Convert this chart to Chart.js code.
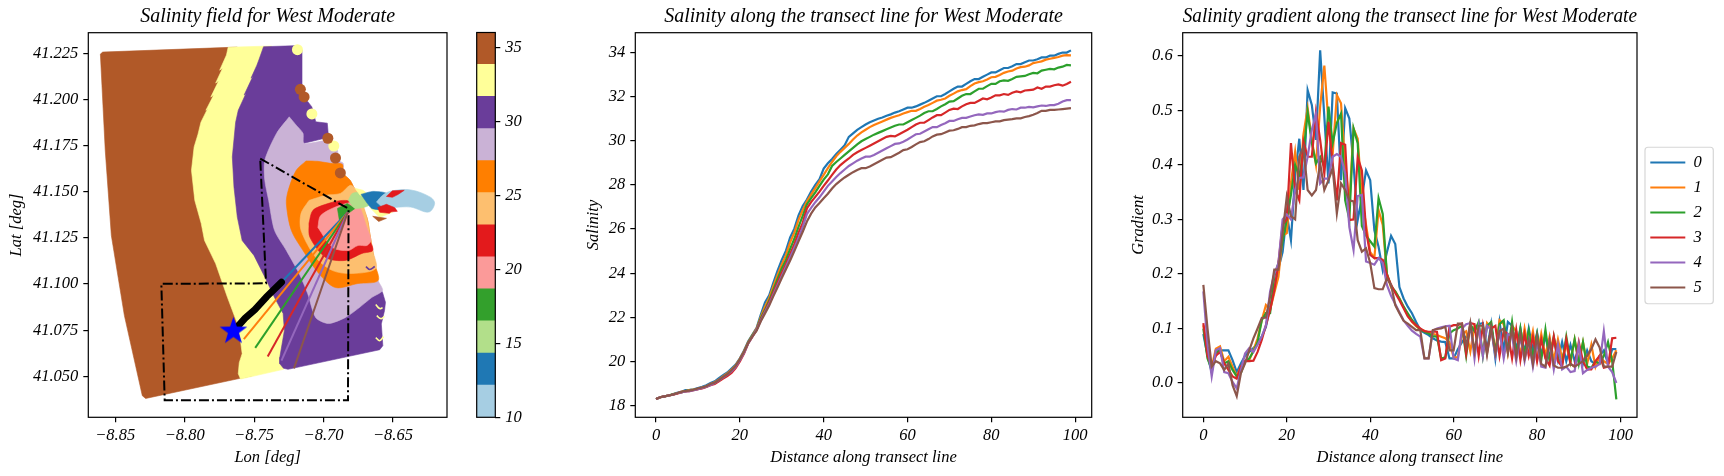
<!DOCTYPE html>
<html>
<head>
<meta charset="utf-8">
<title>Salinity West Moderate</title>
<script src="https://cdn.jsdelivr.net/npm/chart.js@4/dist/chart.umd.js"></script>
<style>
  html, body { margin: 0; padding: 0; background: #fff; }
  body { width: 1724px; height: 476px; position: relative; overflow: hidden; }
  canvas { position: absolute; top: 0; }
</style>
</head>
<body>
<canvas id="fieldChart" width="462" height="476" style="left:0"></canvas>
<canvas id="barChart" width="60" height="476" style="left:470px"></canvas>
<canvas id="salinityChart" width="525" height="476" style="left:578px"></canvas>
<canvas id="gradientChart" width="599" height="476" style="left:1125px"></canvas>
<script>
// salinity bands of the field plot, [lon, lat] outlines, painted bottom to top
const fieldBrown = [[-8.8607,41.2246],[-8.8572,41.1725],[-8.8528,41.1263],[-8.8434,41.0829],[-8.8305,41.0395],[-8.8281,41.0380],[-8.7515,41.0503],[-8.7550,41.0910],[-8.7798,41.1725],[-8.7621,41.2284],[-8.8590,41.2257]];
const fieldYellow = [[-8.7687,41.2283],[-8.7699,41.2241],[-8.7715,41.2214],[-8.7748,41.2159],[-8.7727,41.2170],[-8.7777,41.2089],[-8.7756,41.2100],[-8.7812,41.2013],[-8.7791,41.2024],[-8.7847,41.1942],[-8.7833,41.1953],[-8.7883,41.1877],[-8.7904,41.1812],[-8.7932,41.1743],[-8.7951,41.1616],[-8.7927,41.1453],[-8.7881,41.1329],[-8.7857,41.1236],[-8.7777,41.1111],[-8.7692,41.0928],[-8.7621,41.0786],[-8.7600,41.0704],[-8.7586,41.0623],[-8.7607,41.0574],[-8.7614,41.0514],[-8.7598,41.0485],[-8.7289,41.0538],[-8.7197,41.1453],[-8.7374,41.2290]];
const fieldPurple = [[-8.7432,41.2286],[-8.7466,41.2214],[-8.7480,41.2186],[-8.7522,41.2116],[-8.7508,41.2127],[-8.7572,41.2024],[-8.7558,41.2034],[-8.7614,41.1942],[-8.7633,41.1877],[-8.7657,41.1689],[-8.7645,41.1526],[-8.7621,41.1363],[-8.7586,41.1236],[-8.7501,41.1155],[-8.7421,41.1035],[-8.7353,41.0927],[-8.7291,41.0840],[-8.7282,41.0748],[-8.7315,41.0603],[-8.7315,41.0568],[-8.7289,41.0544],[-8.7256,41.0538],[-8.6596,41.0644],[-8.6573,41.0666],[-8.6584,41.0784],[-8.6561,41.0856],[-8.6554,41.0901],[-8.6575,41.0954],[-8.6985,41.1562],[-8.7140,41.1763],[-8.6964,41.1795],[-8.6973,41.1872],[-8.7056,41.1879],[-8.7084,41.1960],[-8.7140,41.2014],[-8.7150,41.2069],[-8.7155,41.2268],[-8.7176,41.2292]];
const fieldLilac = [[-8.7247,41.1906],[-8.7197,41.1861],[-8.7148,41.1817],[-8.7140,41.1763],[-8.6971,41.1779],[-8.6935,41.1768],[-8.6900,41.1725],[-8.6893,41.1671],[-8.6858,41.1654],[-8.6858,41.1600],[-8.6808,41.1562],[-8.6773,41.1508],[-8.6688,41.1361],[-8.6667,41.1274],[-8.6646,41.1182],[-8.6631,41.1111],[-8.6607,41.1019],[-8.6575,41.0965],[-8.6653,41.0927],[-8.6752,41.0867],[-8.6844,41.0818],[-8.6964,41.0786],[-8.7056,41.0818],[-8.7114,41.0948],[-8.7176,41.1057],[-8.7268,41.1182],[-8.7353,41.1291],[-8.7395,41.1453],[-8.7423,41.1562],[-8.7423,41.1671],[-8.7338,41.1817]];
const fieldOrange = [[-8.7126,41.1667],[-8.7041,41.1665],[-8.6950,41.1654],[-8.6865,41.1649],[-8.6858,41.1600],[-8.6808,41.1562],[-8.6773,41.1508],[-8.6688,41.1361],[-8.6667,41.1274],[-8.6646,41.1182],[-8.6631,41.1111],[-8.6607,41.1019],[-8.6752,41.1003],[-8.6914,41.0981],[-8.7034,41.1057],[-8.7148,41.1182],[-8.7232,41.1291],[-8.7268,41.1437],[-8.7254,41.1508],[-8.7197,41.1616]];
const fieldPeach = [[-8.7105,41.1453],[-8.6985,41.1481],[-8.6879,41.1491],[-8.6808,41.1535],[-8.6773,41.1519],[-8.6737,41.1475],[-8.6688,41.1361],[-8.6667,41.1274],[-8.6646,41.1182],[-8.6624,41.1084],[-8.6794,41.1057],[-8.6935,41.1073],[-8.7056,41.1144],[-8.7162,41.1291],[-8.7162,41.1383]];
const fieldRed = [[-8.7105,41.1329],[-8.7077,41.1399],[-8.6985,41.1432],[-8.6865,41.1453],[-8.6773,41.1437],[-8.6667,41.1236],[-8.6646,41.1182],[-8.6723,41.1166],[-8.6844,41.1128],[-8.6985,41.1144],[-8.7098,41.1253]];
const fieldPink = [[-8.7041,41.1307],[-8.7020,41.1372],[-8.6879,41.1427],[-8.6759,41.1437],[-8.6688,41.1307],[-8.6660,41.1236],[-8.6688,41.1209],[-8.6752,41.1209],[-8.6822,41.1182],[-8.6935,41.1198]];
const fieldGreen = [[-8.6900,41.1410],[-8.6829,41.1437],[-8.6773,41.1410],[-8.6822,41.1383],[-8.6886,41.1345]];
const fieldLightGreen = [[-8.6822,41.1453],[-8.6794,41.1491],[-8.6723,41.1497],[-8.6674,41.1427],[-8.6773,41.1410]];
const fieldYellowA = [[-8.6773,41.1519],[-8.6716,41.1508],[-8.6688,41.1491],[-8.6737,41.1481]];
const fieldYellowB = [[-8.6667,41.1415],[-8.6547,41.1410],[-8.6504,41.1389],[-8.6596,41.1361]];
const fieldBrownBit = [[-8.6646,41.1367],[-8.6547,41.1356],[-8.6603,41.1339]];
const fieldBlue = [[-8.6730,41.1486],[-8.6646,41.1502],[-8.6547,41.1491],[-8.6575,41.1427],[-8.6554,41.1404],[-8.6653,41.1410]];
const fieldRedFringe = [[-8.6561,41.1486],[-8.6462,41.1502],[-8.6504,41.1432],[-8.6469,41.1394],[-8.6547,41.1389],[-8.6589,41.1427]];
const fieldLightBlue = [[-8.6619,41.1444],[-8.6575,41.1481],[-8.6513,41.1504],[-8.6372,41.1510],[-8.6231,41.1471],[-8.6200,41.1437],[-8.6243,41.1390],[-8.6372,41.1417],[-8.6490,41.1415],[-8.6561,41.1410]];
const fieldRedTop = [[-8.6547,41.1475],[-8.6504,41.1505],[-8.6419,41.1508],[-8.6462,41.1486],[-8.6504,41.1470]];
const fieldRedBottom = [[-8.6610,41.1415],[-8.6547,41.1432],[-8.6490,41.1415],[-8.6525,41.1383],[-8.6596,41.1389]];

const yellowDots = [[-8.7188,41.2270],[-8.7084,41.1922],[-8.6926,41.1748]];
const brownDots = [[-8.7167,41.2055],[-8.7140,41.2014],[-8.6969,41.1790],[-8.6914,41.1683],[-8.6879,41.1602]];

// little crescents along the coast
const yellowMarks = [
  [[-8.6624,41.0889],[-8.6596,41.0867],[-8.6575,41.0872]],
  [[-8.6617,41.0829],[-8.6589,41.0813],[-8.6561,41.0824]],
  [[-8.6624,41.0710],[-8.6596,41.0693],[-8.6568,41.0715]],
];
const purpleMark = [[-8.6695,41.1095],[-8.6667,41.1079],[-8.6631,41.1095]];

// dash-dot survey box
const boxOutline = [[-8.7456,41.1680],[-8.6820,41.1408],[-8.6824,41.0371],[-8.8144,41.0371],[-8.8168,41.1001],[-8.7414,41.1004],[-8.7456,41.1680]];

// transects, hub out to the end of each one
const transectHub = [-8.6826,41.1389];
const transectEnds = [[-8.7303,41.1010],[-8.7574,41.0702],[-8.7492,41.0654],[-8.7402,41.0608],[-8.7303,41.0585],[-8.7213,41.0543]];
const thickTransect = [[-8.7633,41.0758],[-8.7565,41.0815],[-8.7494,41.0862],[-8.7409,41.0932],[-8.7303,41.1010]];
const starPoint = [-8.7649,41.0751];

const lonTicks = [-8.85,-8.80,-8.75,-8.70,-8.65];
const latTicks = [41.05,41.075,41.1,41.125,41.15,41.175,41.2,41.225];

const barEdges = [10,12.17,14.33,16.5,18.67,20.83,23,25.17,27.33,29.5,31.67,33.83,36];
const barColors = ['#a6cee3','#1f78b4','#b2df8a','#33a02c','#fb9a99','#e31a1c','#fdbf6f','#ff7f00','#cab2d6','#6a3d9a','#ffff99','#b15928'];
const barTicks = [10,15,20,25,30,35];

const seriesNames = ['0','1','2','3','4','5'];
const seriesColors = ['#1f77b4','#ff7f0e','#2ca02c','#d62728','#9467bd','#8c564b'];
const distance = Array.from({length: 100}, (_, i) => i);
const distanceTicks = [0,20,40,60,80,100];
const salinityTicks = [18,20,22,24,26,28,30,32,34];
const gradientTicks = [0,0.1,0.2,0.3,0.4,0.5,0.6];

const salinity0 = [18.30,18.38,18.42,18.46,18.50,18.58,18.62,18.70,18.71,18.74,18.80,18.85,18.92,19.02,19.10,19.24,19.38,19.50,19.68,19.86,20.14,20.50,20.92,21.22,21.52,22.12,22.68,23.00,23.58,24.12,24.60,25.02,25.62,26.02,26.62,27.04,27.34,27.70,28.00,28.26,28.74,28.98,29.18,29.40,29.60,29.80,30.18,30.34,30.50,30.62,30.74,30.84,30.92,31.00,31.06,31.14,31.20,31.28,31.34,31.42,31.50,31.50,31.56,31.64,31.72,31.82,31.92,32.02,32.02,32.12,32.24,32.36,32.46,32.46,32.58,32.70,32.80,32.80,32.90,33.00,33.10,33.10,33.20,33.30,33.30,33.38,33.48,33.48,33.56,33.64,33.64,33.70,33.78,33.78,33.86,33.86,33.94,34.00,34.00,34.10];
const salinity1 = [18.30,18.38,18.42,18.46,18.50,18.56,18.62,18.66,18.70,18.72,18.76,18.82,18.88,18.98,19.06,19.18,19.32,19.46,19.62,19.82,20.12,20.46,20.88,21.20,21.50,22.02,22.48,22.88,23.42,23.92,24.40,24.82,25.40,25.84,26.42,26.86,27.26,27.56,27.86,28.16,28.46,28.76,29.04,29.30,29.50,29.68,29.86,30.06,30.24,30.38,30.50,30.62,30.72,30.80,30.88,30.96,31.04,31.10,31.16,31.24,31.30,31.36,31.36,31.44,31.54,31.62,31.72,31.82,31.86,31.92,32.04,32.14,32.24,32.30,32.34,32.48,32.60,32.66,32.70,32.78,32.88,32.90,32.98,33.08,33.14,33.18,33.28,33.34,33.36,33.42,33.52,33.56,33.60,33.68,33.72,33.76,33.80,33.86,33.88,33.87];
const salinity2 = [18.30,18.38,18.42,18.46,18.52,18.56,18.60,18.66,18.68,18.72,18.76,18.80,18.86,18.96,19.02,19.14,19.28,19.42,19.58,19.78,20.08,20.42,20.86,21.18,21.46,21.96,22.34,22.76,23.26,23.74,24.22,24.60,25.10,25.56,26.10,26.60,27.12,27.40,27.66,27.96,28.24,28.48,28.86,29.04,29.20,29.36,29.52,29.68,29.84,29.98,30.08,30.18,30.28,30.36,30.44,30.52,30.60,30.68,30.74,30.74,30.84,30.94,31.04,31.14,31.26,31.34,31.34,31.44,31.56,31.66,31.78,31.80,31.92,32.04,32.12,32.12,32.24,32.36,32.36,32.48,32.58,32.58,32.70,32.74,32.72,32.80,32.90,32.92,32.94,33.02,33.08,33.06,33.18,33.22,33.26,33.24,33.32,33.36,33.44,33.42];
const salinity3 = [18.30,18.38,18.42,18.46,18.50,18.54,18.60,18.64,18.66,18.70,18.74,18.78,18.84,18.92,18.98,19.10,19.22,19.34,19.48,19.70,20.00,20.36,20.82,21.12,21.44,21.90,22.28,22.68,23.14,23.58,24.02,24.42,24.86,25.32,25.84,26.28,26.94,27.22,27.46,27.70,27.96,28.20,28.46,28.70,28.90,29.06,29.20,29.36,29.48,29.58,29.68,29.78,29.88,29.98,30.08,30.18,30.22,30.20,30.30,30.40,30.50,30.62,30.74,30.82,30.82,30.94,31.06,31.16,31.16,31.28,31.40,31.46,31.44,31.56,31.66,31.72,31.72,31.82,31.92,31.88,31.96,32.06,32.06,32.12,32.08,32.18,32.24,32.20,32.28,32.30,32.32,32.42,32.36,32.46,32.46,32.52,32.56,32.50,32.58,32.68];
const salinity4 = [18.30,18.38,18.42,18.46,18.50,18.56,18.60,18.64,18.66,18.70,18.74,18.80,18.86,18.94,19.02,19.14,19.28,19.40,19.56,19.76,20.06,20.40,20.82,21.14,21.44,21.86,22.24,22.60,23.04,23.46,23.88,24.30,24.72,25.16,25.60,26.10,26.68,26.96,27.22,27.44,27.70,27.96,28.16,28.36,28.54,28.70,28.86,28.98,29.10,29.20,29.28,29.28,29.36,29.46,29.56,29.66,29.76,29.86,29.88,29.96,30.06,30.18,30.30,30.32,30.42,30.52,30.62,30.62,30.72,30.80,30.90,30.90,30.98,31.04,31.04,31.10,31.16,31.20,31.18,31.24,31.24,31.30,31.34,31.32,31.40,31.44,31.42,31.50,31.50,31.54,31.52,31.56,31.60,31.58,31.62,31.62,31.68,31.78,31.84,31.84];
const salinity5 = [18.30,18.38,18.42,18.46,18.50,18.56,18.62,18.66,18.68,18.72,18.78,18.82,18.88,18.98,19.04,19.16,19.30,19.42,19.60,19.80,20.10,20.44,20.84,21.14,21.40,21.82,22.18,22.54,22.96,23.36,23.78,24.18,24.58,25.00,25.44,25.88,26.34,26.70,26.98,27.18,27.40,27.60,27.84,28.04,28.20,28.34,28.46,28.58,28.68,28.76,28.76,28.84,28.94,29.04,29.14,29.24,29.26,29.36,29.46,29.58,29.62,29.72,29.84,29.94,29.98,30.08,30.20,30.28,30.30,30.38,30.46,30.48,30.54,30.62,30.62,30.68,30.70,30.76,30.80,30.80,30.84,30.88,30.88,30.94,30.96,30.98,31.02,31.02,31.08,31.12,31.18,31.26,31.36,31.36,31.40,31.40,31.42,31.44,31.46,31.48];

const gradient0 = [.090,.050,.020,.060,.060,.060,.060,.042,.020,.036,.050,.057,.064,.073,.085,.103,.140,.170,.210,.240,.310,.262,.380,.448,.354,.537,.510,.446,.610,.488,.366,.533,.531,.372,.504,.485,.400,.299,.340,.390,.372,.280,.250,.207,.240,.270,.255,.176,.155,.140,.128,.112,.097,.092,.088,.082,.078,.076,.075,.045,.045,.062,.075,.085,.095,.100,.108,.110,.060,.108,.045,.112,.060,.112,.105,.060,.100,.055,.100,.060,.092,.050,.088,.045,.082,.042,.075,.040,.070,.040,.065,.035,.060,.040,.035,.050,.060,.035,.062,.062];
const gradient1 = [.106,.060,.030,.063,.067,.040,.048,.030,.012,.030,.040,.042,.060,.082,.115,.143,.134,.165,.195,.270,.275,.367,.424,.354,.456,.504,.446,.400,.507,.582,.476,.420,.528,.513,.400,.330,.467,.448,.340,.290,.240,.230,.317,.290,.200,.175,.168,.155,.140,.125,.112,.104,.098,.096,.092,.090,.088,.085,.082,.075,.047,.047,.090,.095,.058,.105,.095,.055,.110,.100,.060,.115,.108,.055,.105,.095,.050,.100,.060,.095,.045,.090,.050,.085,.042,.080,.045,.070,.038,.080,.040,.075,.035,.070,.030,.050,.040,.035,.045,.060];
const gradient2 = [.100,.045,.025,.055,.060,.036,.040,.024,.012,.018,.040,.045,.058,.075,.115,.128,.128,.195,.220,.260,.300,.345,.400,.380,.420,.497,.440,.403,.415,.397,.507,.440,.477,.494,.335,.300,.467,.440,.288,.270,.260,.250,.339,.310,.200,.178,.168,.155,.140,.128,.116,.106,.098,.094,.091,.086,.085,.045,.047,.091,.097,.100,.105,.050,.108,.095,.112,.050,.105,.112,.055,.108,.115,.060,.112,.052,.100,.050,.095,.045,.090,.042,.098,.040,.085,.045,.035,.085,.040,.080,.035,.075,.030,.028,.040,.035,.050,.075,.040,-.030];
const gradient3 = [.110,.050,.030,.050,.057,.036,.024,.012,.008,.030,.040,.040,.041,.057,.079,.106,.134,.170,.220,.290,.300,.440,.354,.335,.443,.415,.415,.497,.446,.384,.479,.403,.335,.440,.437,.299,.300,.414,.390,.280,.235,.229,.229,.226,.198,.180,.165,.152,.137,.122,.113,.106,.100,.095,.094,.094,.094,.042,.045,.103,.106,.106,.109,.054,.110,.108,.050,.105,.055,.100,.105,.050,.095,.090,.045,.098,.042,.090,.050,.085,.040,.080,.045,.032,.085,.040,.030,.080,.035,.030,.075,.040,.025,.025,.040,.050,.028,.030,.082,.083];
const gradient4 = [.168,.070,.012,.060,.064,.020,.018,.002,-.010,.024,.054,.064,.057,.070,.085,.106,.168,.200,.220,.300,.309,.300,.354,.376,.377,.415,.464,.494,.366,.375,.375,.415,.420,.415,.384,.286,.244,.343,.345,.223,.220,.217,.229,.220,.180,.160,.145,.130,.115,.105,.096,.090,.085,.045,.045,.096,.100,.102,.104,.105,.045,.042,.100,.108,.110,.045,.105,.050,.105,.098,.050,.095,.045,.090,.085,.040,.085,.040,.078,.030,.075,.030,.028,.075,.025,.070,.025,.030,.020,.022,.070,.018,.024,.028,.030,.035,.095,.030,.020,.000];
const gradient5 = [.180,.100,.030,.040,.036,.024,.036,-.004,-.024,.018,.036,.060,.082,.100,.119,.120,.158,.208,.208,.275,.342,.306,.300,.415,.433,.354,.344,.354,.403,.354,.372,.394,.311,.366,.354,.335,.333,.262,.241,.247,.220,.174,.172,.172,.192,.180,.143,.128,.114,.109,.103,.097,.097,.045,.045,.097,.099,.100,.103,.060,.060,.109,.109,.067,.110,.058,.105,.105,.052,.102,.055,.095,.100,.055,.100,.048,.090,.045,.078,.035,.085,.035,.030,.078,.032,.028,.028,.030,.035,.030,.035,.040,.050,.062,.080,.065,.030,.030,.030,.057];

const salinitySeries = [salinity0, salinity1, salinity2, salinity3, salinity4, salinity5];
const gradientSeries = [gradient0, gradient1, gradient2, gradient3, gradient4, gradient5];

const SERIF = "'Liberation Serif', 'Times New Roman', serif";
const tickFont = { family: SERIF, size: 16.5, style: 'italic' };
const labelFont = { family: SERIF, size: 16.5, style: 'italic' };
const titleFont = { family: SERIF, size: 20, style: 'italic', weight: 'normal' };

// black box all round the plot area
const framePlugin = {
  id: 'frame',
  afterDraw(chart) {
    const { ctx, chartArea: a } = chart;
    ctx.save();
    ctx.strokeStyle = '#000';
    ctx.lineWidth = 1.2;
    ctx.strokeRect(a.left, a.top, a.right - a.left, a.bottom - a.top);
    ctx.restore();
  }
};

const tickGrid = { drawOnChartArea: false, drawTicks: true, tickLength: 5, color: '#000', lineWidth: 1.2 };

function axis(min, max, tickValues, format, size, title, extra, tickPad) {
  return {
    type: 'linear', min, max,
    border: { display: false },
    grid: tickGrid,
    afterBuildTicks: scale => { scale.ticks = tickValues.map(value => ({ value })); },
    afterFit: scale => { if (scale.isHorizontal()) scale.height = size; else scale.width = size; },
    ticks: { font: tickFont, color: '#000', padding: tickPad || 3, autoSkip: false, maxRotation: 0, minRotation: 0, callback: format },
    title: title ? { display: true, text: title, font: labelFont, color: '#000', ...extra } : { display: false },
  };
}

function titleOf(text) {
  return { display: true, text, fullSize: false, font: titleFont, color: '#000', padding: { top: 4.6, bottom: 4.1 } };
}

const toXY = pts => pts.map(p => ({ x: p[0], y: p[1] }));

function patch(outline, color, tension) {
  return {
    data: toXY(outline.concat([outline[0]])),
    showLine: true, fill: 'shape', tension: tension || 0,
    backgroundColor: color, borderColor: color, borderWidth: 0.6, pointRadius: 0,
  };
}

function dots(points, color, radius) {
  return { data: toXY(points), showLine: false, pointRadius: radius, pointBorderWidth: 0, backgroundColor: color, borderColor: color };
}

function mark(points, color) {
  return { data: toXY(points), showLine: true, fill: false, tension: 0.4, borderColor: color, borderWidth: 1.6, pointRadius: 0 };
}

// filled five point star for the transect origin
function makeStar(size, color) {
  const c = document.createElement('canvas');
  c.width = c.height = size;
  const g = c.getContext('2d');
  g.fillStyle = color;
  g.beginPath();
  for (let i = 0; i < 10; i++) {
    const r = i % 2 ? size * 0.2 : size * 0.5;
    const a = -Math.PI / 2 + i * Math.PI / 5;
    g.lineTo(size / 2 + r * Math.cos(a), size * 0.54 + r * Math.sin(a));
  }
  g.closePath();
  g.fill();
  return c;
}

const fieldDatasets = [
  patch(fieldBrown, '#b15928'), patch(fieldYellow, '#ffff99'), patch(fieldPurple, '#6a3d9a'),
  patch(fieldLilac, '#cab2d6', 0.25), patch(fieldOrange, '#ff7f00', 0.3), patch(fieldPeach, '#fdbf6f', 0.3),
  patch(fieldRed, '#e31a1c', 0.3), patch(fieldPink, '#fb9a99', 0.3), patch(fieldGreen, '#33a02c'),
  patch(fieldLightGreen, '#b2df8a', 0.2), patch(fieldYellowA, '#ffff99'), patch(fieldYellowB, '#ffff99'),
  patch(fieldBrownBit, '#b15928'), patch(fieldBlue, '#1f78b4', 0.2), patch(fieldRedFringe, '#e31a1c'),
  patch(fieldLightBlue, '#a6cee3', 0.35), patch(fieldRedTop, '#e31a1c'), patch(fieldRedBottom, '#e31a1c'),
  dots(yellowDots, '#ffff99', 5.5), dots(brownDots, '#b15928', 5.5),
  mark(yellowMarks[0], '#ffff99'), mark(yellowMarks[1], '#ffff99'), mark(yellowMarks[2], '#ffff99'), mark(purpleMark, '#6a3d9a'),
  { data: toXY(boxOutline), showLine: true, fill: false, tension: 0, borderColor: '#000', borderWidth: 2, borderDash: [10, 3, 2, 3], pointRadius: 0 },
];
transectEnds.forEach((end, i) => {
  fieldDatasets.push({ data: toXY([transectHub, end]), showLine: true, fill: false, borderColor: seriesColors[i], borderWidth: 2, pointRadius: 0 });
});
fieldDatasets.push({ data: toXY(thickTransect), showLine: true, fill: false, tension: 0, borderColor: '#000', borderWidth: 7, pointRadius: 0, borderCapStyle: 'round' });
fieldDatasets.push({ data: toXY([starPoint]), showLine: false, pointStyle: makeStar(29, '#0000ff'), pointRadius: 14 });
fieldDatasets.forEach((d, i) => { d.order = -i; });

new Chart(document.getElementById('fieldChart'), {
  type: 'scatter',
  data: { datasets: fieldDatasets },
  plugins: [framePlugin],
  options: {
    responsive: false, animation: false, events: [],
    layout: { padding: { right: 8.7 } },
    plugins: { legend: { display: false }, tooltip: { enabled: false }, title: titleOf('Salinity field for West Moderate') },
    scales: {
      x: axis(-8.8694, -8.6111, lonTicks, v => '\u2212' + Math.abs(v).toFixed(2), 58.7, 'Lon [deg]', { padding: { top: 0, bottom: 8.4 } }),
      y: axis(41.0278, 41.2362, latTicks, v => v.toFixed(3), 88.3, 'Lat [deg]', { padding: { top: 7, bottom: 0 } }, 5),
    },
  },
});

new Chart(document.getElementById('barChart'), {
  type: 'bar',
  data: {
    labels: ['Salinity'],
    datasets: barColors.map((color, i) => ({ data: [[barEdges[i], barEdges[i + 1]]], backgroundColor: color, barPercentage: 1, categoryPercentage: 1, grouped: false, inflateAmount: 0.5 })),
  },
  plugins: [framePlugin],
  options: {
    responsive: false, animation: false, events: [],
    layout: { padding: { left: 6.7, top: 32.5, bottom: 58.7 } },
    plugins: { legend: { display: false }, tooltip: { enabled: false } },
    scales: {
      x: { display: false },
      y: { ...axis(10, 36, barTicks, v => String(v), 34.7, null, null, 5), position: 'right' },
    },
  },
});

function lineDatasets(series) {
  return series.map((values, i) => ({
    label: seriesNames[i],
    data: values.map((y, k) => ({ x: distance[k], y })),
    borderColor: seriesColors[i], backgroundColor: seriesColors[i],
    borderWidth: 2.2, pointRadius: 0, tension: 0, fill: false, order: -i,
  }));
}

new Chart(document.getElementById('salinityChart'), {
  type: 'line',
  data: { datasets: lineDatasets(salinitySeries) },
  plugins: [framePlugin],
  options: {
    responsive: false, animation: false, events: [],
    layout: { padding: { right: 11.3 } },
    plugins: { legend: { display: false }, tooltip: { enabled: false }, title: titleOf('Salinity along the transect line for West Moderate') },
    scales: {
      x: axis(-4.95, 103.95, distanceTicks, v => String(v), 58.7, 'Distance along transect line', { padding: { top: 0, bottom: 8.4 } }),
      y: axis(17.47, 34.9, salinityTicks, v => String(v), 57.3, 'Salinity', { padding: { top: 5.4, bottom: 0 } }, 5),
    },
  },
});

// legend sits a little clear of the axes and has a rounded grey box round it
const legendBoxPlugin = {
  id: 'legendBox',
  afterLayout(chart) {
    chart.legend.left += 4.8;
    chart.legend.right += 4.8;
  },
  afterDraw(chart) {
    const lg = chart.legend, hb = lg.legendHitBoxes, { ctx } = chart;
    const top = hb[0].top - 7, bottom = hb[hb.length - 1].top + hb[hb.length - 1].height + 8;
    ctx.save();
    ctx.strokeStyle = 'rgba(204,204,204,0.8)';
    ctx.lineWidth = 1.2;
    ctx.beginPath();
    ctx.roundRect(lg.left + 3.2, top, 68.3, bottom - top, 3);
    ctx.stroke();
    ctx.restore();
  }
};

new Chart(document.getElementById('gradientChart'), {
  type: 'line',
  data: { datasets: lineDatasets(gradientSeries) },
  plugins: [framePlugin, legendBoxPlugin],
  options: {
    responsive: false, animation: false, events: [],
    layout: { padding: { right: 17 } },
    plugins: {
      tooltip: { enabled: false },
      title: titleOf('Salinity gradient along the transect line for West Moderate'),
      legend: {
        position: 'right', fullSize: false,
        labels: {
          boxWidth: 35, boxHeight: 2, padding: 8.5, font: tickFont, color: '#000',
          sort: (a, b) => a.datasetIndex - b.datasetIndex,
          generateLabels: chart => Chart.defaults.plugins.legend.labels.generateLabels(chart).map(item => ({ ...item, lineWidth: 0 })),
        },
      },
    },
    scales: {
      x: axis(-4.95, 103.95, distanceTicks, v => String(v), 58.7, 'Distance along transect line', { padding: { top: 0, bottom: 8.4 } }),
      y: axis(-0.0629, 0.6425, gradientTicks, v => v.toFixed(1), 57.7, 'Gradient', { padding: { top: 3.4, bottom: 0 } }, 5),
    },
  },
});
</script>
</body>
</html>
